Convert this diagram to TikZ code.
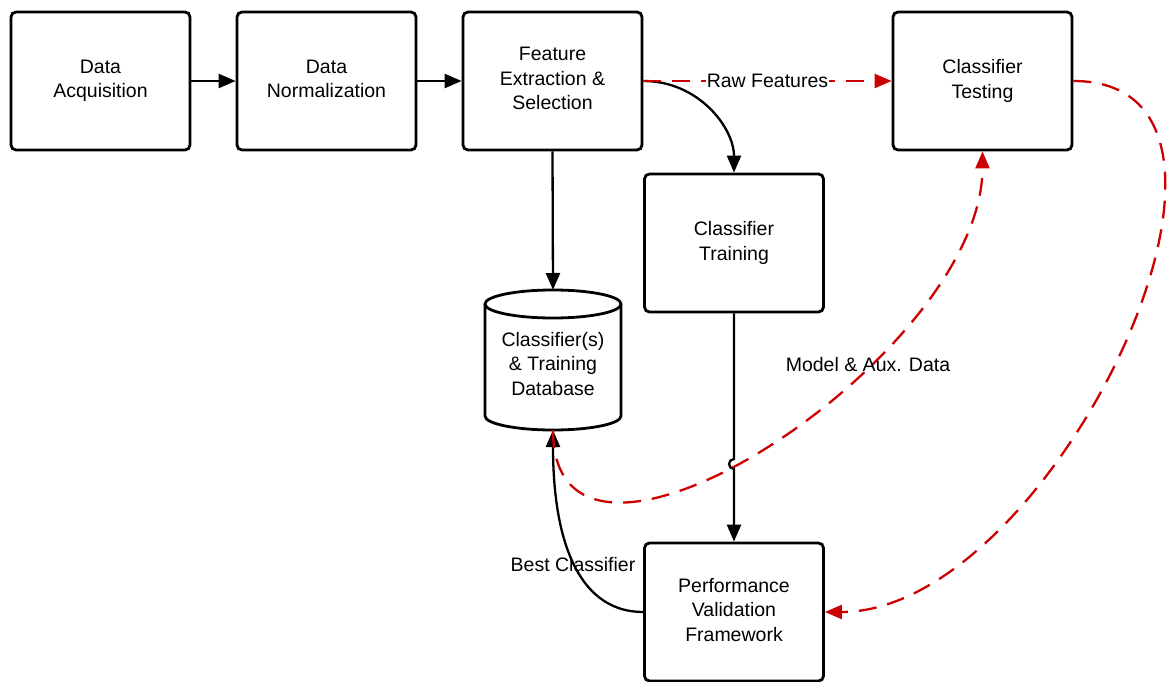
\documentclass[tikz,border=0pt]{standalone}
\usepackage{fontspec}
\setmainfont{Liberation Sans}
\usetikzlibrary{arrows.meta}
\definecolor{flowred}{RGB}{204,0,0}
\begin{document}
\begin{tikzpicture}[x=1pt,y=-1pt,
  every node/.style={font=\fontsize{19.5}{24.5}\selectfont},
  proc/.style={draw, line width=2.8pt, rounded corners=5pt, minimum width=179pt, minimum height=138pt, align=center, inner sep=0pt,
    execute at end node={\rule[-4.5pt]{0pt}{1pt}}},
  conn/.style={line width=2.3pt, -{Triangle[length=17pt,width=14pt]}},
  redconn/.style={conn, draw=flowred, fill=none, dash pattern=on 18pt off 11pt},
  cyl/.style={line width=2.8pt}]
\useasboundingbox (0,0) rectangle (1167,682);

\node[proc] (acq)   at (100.5,81) {Data\\Acquisition};
\node[proc] (norm)  at (326.5,81) {Data\\Normalization};
\node[proc] (feat)  at (552.5,81) {Feature\\Extraction \&\\Selection};
\node[proc] (test)  at (982.5,81) {Classifier\\Testing};
\node[proc] (train) at (734,243) {Classifier\\Training};
\node[proc] (perf)  at (734,612) {Performance\\Validation\\Framework};

% database cylinder
\coordinate (dbtop) at (553,290);
\coordinate (dbbot) at (553,430);
\draw[cyl] (485,304) -- (485,416) arc[start angle=180, end angle=360, x radius=68pt, y radius=14pt] -- (621,304);
\draw[cyl] (553,304) ellipse [x radius=68pt, y radius=14pt];
\node[align=center] (db) at (553,364) {Classifier(s)\\\& Training\\Database};

% solid connectors
\draw[conn] (acq) -- (norm);
\draw[conn] (norm) -- (feat);
\draw[conn] (feat.south) -- (dbtop);
\draw[conn] (feat.east) .. controls +(55,0) and +(0,-45) .. (train.north);
\coordinate (hop) at (734,464);
\draw[conn] (train.south) -- ([yshift=5pt]hop) arc[start angle=90, end angle=270, radius=5pt] -- (perf.north);
\draw[conn] (perf.west) .. controls +(-60,0) and +(0,120) .. (dbbot);
\node (bestlbl) at (573,565) {Best Classifier};

% red dashed connectors
\draw[redconn] (feat.east) -- node[fill=white, inner sep=1pt] (rawlbl) {Raw Features} (test.west);
\draw[redconn] (dbbot) .. controls +(0,206) and +(0,206) .. (test.south);
\node (modlbl) at (868,365) {Model \& Aux. Data};
\draw[redconn] (test.east) .. controls +(230,0) and +(230,0) .. (perf.east);
\end{tikzpicture}
\end{document}
